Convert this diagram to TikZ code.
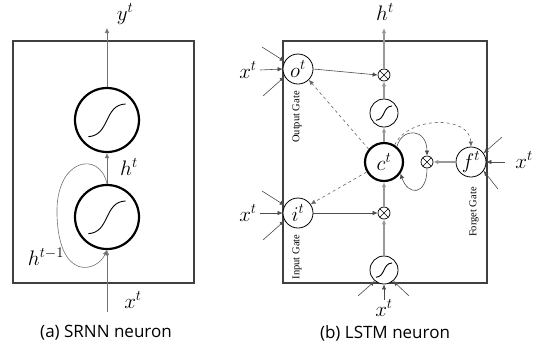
\RequirePackage{fix-cm}
\documentclass[tikz,border=0pt]{standalone}
\usepackage{fontspec}
\setmainfont{Open Sans}
\newfontfamily\gatefont{Liberation Serif}
\usetikzlibrary{arrows.meta,calc}
\begin{document}
\begin{tikzpicture}[x=1pt,y=-1pt,
  arr/.style={-{Latex[length=5pt,width=4.5pt]}},
  boxline/.style={draw=black!75,line width=1.2pt},
  flow/.style={draw=black!40,line width=1.2pt,arr},
  inarr/.style={draw=black!70,line width=0.6pt,arr},
  bigneuron/.style={circle,draw=black,line width=2.2pt,minimum size=64pt,inner sep=0pt},
  gate/.style={circle,draw=black,line width=0.8pt,minimum size=30pt,inner sep=0pt,font=\fontsize{21}{22}\selectfont},
  cell/.style={circle,draw=black,line width=2.2pt,minimum size=38pt,inner sep=0pt,font=\fontsize{21}{22}\selectfont},
  act/.style={circle,draw=black,line width=0.8pt,minimum size=28pt,inner sep=0pt},
  mult/.style={circle,draw=black,line width=0.7pt,minimum size=12pt,inner sep=0pt,
    path picture={\draw[line width=0.6pt] (path picture bounding box.north west)--(path picture bounding box.south east)
      (path picture bounding box.north east)--(path picture bounding box.south west);}},
  lab/.style={font=\fontsize{21}{24}\selectfont,inner sep=0pt},
  gatelab/.style={font=\gatefont\fontsize{10.5}{12}\selectfont,rotate=90,inner sep=0pt},
  captext/.style={font=\fontsize{17}{20}\selectfont,inner sep=0pt}]
\newcommand\sigm[2]{\draw[line width=0.9pt] ($(#1)+(-0.58*#2,0.52*#2)$) .. controls ($(#1)+(0.1*#2,0.48*#2)$) and ($(#1)+(-0.1*#2,-0.48*#2)$) .. ($(#1)+(0.58*#2,-0.5*#2)$);}
\useasboundingbox (0,0) rectangle (543,354);
% ---------- left panel ----------
\draw[boxline] (13,41) rectangle (194,283);
\node[bigneuron] (n2) at (107,120) {};
\node[bigneuron] (n1) at (107,217) {};
\sigm{n2}{32}
\sigm{n1}{32}
\coordinate (ytop) at (107,28);
\coordinate (xbot) at (107,312);
\draw[inarr,draw=black!55] (n2.north) -- (ytop);
\draw[inarr,draw=black!55] (n1.north) -- (n2.south);
\draw[inarr,draw=black!55] (xbot) -- (n1.south);
\draw[inarr,draw=black!55] (n1.north) .. controls (100,150) and (55,158) .. (57,215)
   .. controls (59,282) and (97,272) .. (n1.south);
\node[lab] (yl) at (125,14) {$y^t$};
\node[lab] (hl) at (129,167) {$h^t$};
\node[lab] (hm) at (46,257) {$h^{t-1}$};
\node[lab] (xl) at (133,300) {$x^t$};
\node[captext] (capa) at (106,333) {(a) SRNN neuron};
% ---------- right panel ----------
\draw[boxline] (283,41) rectangle (487,283);
\node[gate,fill=white] (o) at (298,69) {$o^t$};
\node[gate,fill=white] (i) at (298,213) {$i^t$};
\node[gate,fill=white] (f) at (471,162) {$f^t$};
\node[cell] (c) at (384,162) {$c^t$};
\node[act,fill=white] (t1) at (384,113) {};
\node[act,fill=white] (t2) at (384,270) {};
\sigm{t1}{14}
\sigm{t2}{14}
\node[mult] (mo) at (384,75) {};
\node[mult] (mi) at (384,213) {};
\node[mult] (mf) at (427,162) {};
\coordinate (htop) at (384,28);
\draw[flow] (mo.north) -- (htop);
\draw[flow] (t1.north) -- (mo.south);
\draw[flow] (c.north) -- (t1.south);
\draw[flow] (mi.north) -- (c.south);
\draw[flow] (t2.north) -- (mi.south);
\draw[flow] (f.west) -- (mf.east);
\draw[inarr] (o.east) -- (mo.west);
\draw[inarr] (i.east) -- (mi.west);
\draw[inarr] (c.50) .. controls (402,127) and (427,128) .. (mf.north);
\draw[inarr] (mf.south) .. controls (427,196) and (408,196) .. (c.-35);
\draw[inarr,dashed,draw=black!60] (c.140) -- (o.-45);
\draw[inarr,dashed,draw=black!60] (c.-150) -- (i.35);
\draw[inarr,dashed,draw=black!60] (c.58) .. controls (408,116) and (470,115) .. (f.north);
% inputs o
\coordinate (oa) at (262,47); \coordinate (ob) at (260,70); \coordinate (oc) at (263,96);
\draw[inarr] (oa) -- (o.150);
\draw[inarr] (ob) -- (o.west);
\draw[inarr] (oc) -- (o.-150);
% inputs i
\coordinate (ia) at (262,191); \coordinate (ib) at (260,213); \coordinate (ic) at (263,240);
\draw[inarr] (ia) -- (i.150);
\draw[inarr] (ib) -- (i.west);
\draw[inarr] (ic) -- (i.-150);
% inputs f
\coordinate (fa) at (502,137); \coordinate (fb) at (505,162); \coordinate (fc) at (498,189);
\draw[inarr] (fa) -- (f.35);
\draw[inarr] (fb) -- (f.east);
\draw[inarr] (fc) -- (f.-35);
% inputs bottom tanh
\coordinate (ba) at (358,296); \coordinate (bb) at (384,300); \coordinate (bc) at (409,296);
\draw[inarr] (ba) -- (t2.-130);
\draw[inarr] (bb) -- (t2.south);
\draw[inarr] (bc) -- (t2.-50);
% labels
\node[lab] (hr) at (385,12) {$h^t$};
\node[lab] (xo) at (248,70) {$x^t$};
\node[lab] (xi) at (248,213) {$x^t$};
\node[lab] (xf) at (524,160) {$x^t$};
\node[lab] (xb) at (384,308) {$x^t$};
\node[gatelab] (og) at (297,117) {Output Gate};
\node[gatelab] (ig) at (297,257) {Input Gate};
\node[gatelab] (fg) at (474,212) {Forget Gate};
\node[captext] (capb) at (385,333) {(b) LSTM neuron};
\end{tikzpicture}
\end{document}
